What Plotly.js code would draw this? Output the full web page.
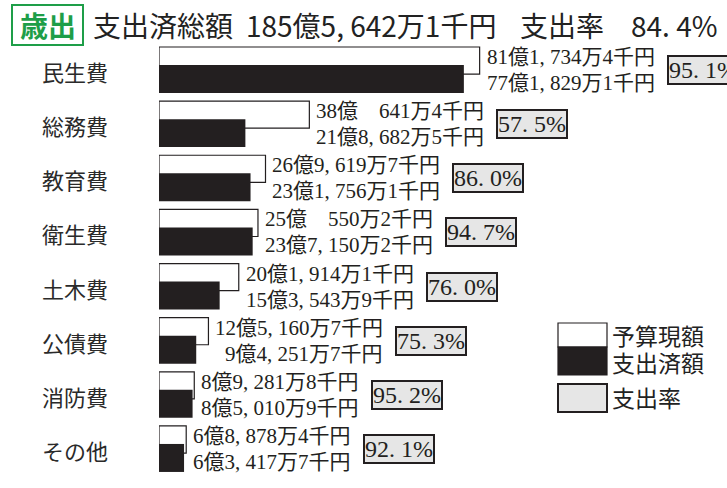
<!DOCTYPE html>
<html>
<head>
<meta charset="utf-8">
<script src="https://cdn.plot.ly/plotly-3.0.1.min.js"></script>
<style>
html,body{margin:0;padding:0;background:#fff;}
#chart{width:727px;height:488px;}
</style>
</head>
<body>
<div id="chart"></div>
<script>
// ---- data (amounts in 千円) ----
const categories = ['民生費','総務費','教育費','衛生費','土木費','公債費','消防費','その他'];
const budgetSen  = [8117344, 3806414, 2696197, 2505502, 2019141, 1251607, 892818, 688784]; // 予算現額
const spentSen   = [7718291, 2186825, 2317561, 2371502, 1535439,  942517, 850109, 634177]; // 支出済額
const rateLabels = ['95. 1%','57. 5%','86. 0%','94. 7%','76. 0%','75. 3%','95. 2%','92. 1%']; // 支出率
const totalRateLabel = '84. 4%';
const legendLabels = ['予算現額','支出済額','支出率'];

// ---- helpers ----
function fmt(v){
  const oku = Math.floor(v/100000);
  const rem = v % 100000;
  const man = Math.floor(rem/10);
  const sen = rem % 10;
  const manStr = man >= 1000 ? Math.floor(man/1000) + ', ' + String(man%1000).padStart(3,'0') : '\u3000' + man;
  return oku + '億' + manStr + '万' + sen + '千円';
}
const totalSpent = spentSen.reduce((a,b)=>a+b,0);
const yIdx = categories.map((c,i)=>i);
const budgetOku = budgetSen.map(v=>v/100000);
const spentOku = spentSen.map(v=>v/100000);

const L=159, W=568, T=42, H=446;
const px = p => (p-L)/W;
const py = p => 1-(p-T)/H;

const labelFont = "'Liberation Serif', 'Noto Sans CJK JP', serif";
const sansFont = "'Noto Sans CJK JP', 'Noto Sans', sans-serif";
const canvas = document.createElement('canvas');
const ctx = canvas.getContext('2d');
function textW(s, size, fam){ ctx.font = size + 'px ' + fam; return ctx.measureText(s).width; }

const LABEL_SIZE = 21;
const dark = '#231f20';

const traces = [
  {type:'bar', orientation:'h', y:yIdx, x:budgetOku, width:0.5, offset:-0.4248,
   marker:{color:'#ffffff', line:{color:dark, width:1.2}}, hoverinfo:'skip', showlegend:false},
  {type:'bar', orientation:'h', y:yIdx, x:spentOku, width:0.517, offset:-0.0924,
   marker:{color:dark, line:{width:0}}, hoverinfo:'skip', showlegend:false}
];

const ann = [];
categories.forEach((c,i)=>{
  ann.push({xref:'paper', yref:'y', x:px(75), y:i, yshift:-1, text:c, showarrow:false,
    xanchor:'center', yanchor:'middle', font:{family:sansFont, size:22, color:'#2a2a2a'}});
  const t1 = fmt(budgetSen[i]), t2 = fmt(spentSen[i]);
  const w = Math.max(textW(t1, LABEL_SIZE, labelFont), textW(t2, LABEL_SIZE, labelFont));
  const sx = 8 + w;
  ann.push({xref:'x', yref:'y', x:budgetOku[i], y:i, xshift:sx, yshift:13, text:t1, showarrow:false,
    xanchor:'right', yanchor:'middle', font:{family:labelFont, size:LABEL_SIZE, color:dark}, borderpad:0});
  ann.push({xref:'x', yref:'y', x:budgetOku[i], y:i, xshift:sx, yshift:-13, text:t2, showarrow:false,
    xanchor:'right', yanchor:'middle', font:{family:labelFont, size:LABEL_SIZE, color:dark}, borderpad:0});
  ann.push({xref:'x', yref:'y', x:budgetOku[i], y:i, xshift:sx+11, yshift:0, text:rateLabels[i], showarrow:false,
    xanchor:'left', yanchor:'middle', font:{family:labelFont, size:24, color:dark},
    bgcolor:'#e6e6e6', bordercolor:dark, borderwidth:2, borderpad:0});
});

// title
ann.push({xref:'paper', yref:'paper', x:px(47.5), y:py(25), text:'<b>歳出</b>', showarrow:false,
  xanchor:'center', yanchor:'middle', font:{family:sansFont, size:28, color:'#1e9e48'}});
ann.push({xref:'paper', yref:'paper', x:px(91), y:py(25), text:'支出済総額', showarrow:false,
  xanchor:'left', yanchor:'middle', font:{family:sansFont, size:28, color:'#222'}});
ann.push({xref:'paper', yref:'paper', x:px(244), y:py(25), text:fmt(totalSpent), showarrow:false,
  xanchor:'left', yanchor:'middle', font:{family:sansFont, size:28, color:'#222'}});
ann.push({xref:'paper', yref:'paper', x:px(518), y:py(25), text:'支出率', showarrow:false,
  xanchor:'left', yanchor:'middle', font:{family:sansFont, size:28, color:'#222'}});
ann.push({xref:'paper', yref:'paper', x:px(629), y:py(25), text:totalRateLabel, showarrow:false,
  xanchor:'left', yanchor:'middle', font:{family:sansFont, size:28, color:'#222'}});

// legend text
[[335,legendLabels[0]],[362,legendLabels[1]],[397,legendLabels[2]]].forEach(([yy,t])=>{
  ann.push({xref:'paper', yref:'paper', x:px(610), y:py(yy), text:t, showarrow:false,
    xanchor:'left', yanchor:'middle', font:{family:sansFont, size:23, color:'#222'}});
});

const shapes = [
  {type:'rect', xref:'paper', yref:'paper', x0:px(12), x1:px(83), y0:py(5), y1:py(45),
   line:{color:'#1e9e48', width:2}, fillcolor:'rgba(0,0,0,0)'},
  {type:'rect', xref:'paper', yref:'paper', x0:px(558), x1:px(607), y0:py(323), y1:py(347),
   line:{color:dark, width:1.2}, fillcolor:'#ffffff'},
  {type:'rect', xref:'paper', yref:'paper', x0:px(558), x1:px(607), y0:py(347), y1:py(375),
   line:{color:dark, width:1.2}, fillcolor:dark},
  {type:'rect', xref:'paper', yref:'paper', x0:px(558), x1:px(607), y0:py(384), y1:py(412),
   line:{color:dark, width:2}, fillcolor:'#e6e6e6'}
];

const layout = {
  width:727, height:488,
  margin:{l:L, r:727-L-W, t:T, b:488-T-H, pad:0},
  paper_bgcolor:'#fff', plot_bgcolor:'#fff',
  barmode:'overlay',
  showlegend:false,
  xaxis:{range:[0, W/3.95], showgrid:false, zeroline:false, showticklabels:false, ticks:'', showline:false, fixedrange:true},
  yaxis:{range:[7.721, -0.517], showgrid:false, zeroline:false, showticklabels:false, ticks:'', showline:false, fixedrange:true},
  annotations:ann,
  shapes:shapes,
  hovermode:false
};

Plotly.newPlot('chart', traces, layout, {displayModeBar:false, staticPlot:true});
</script>
</body>
</html>
